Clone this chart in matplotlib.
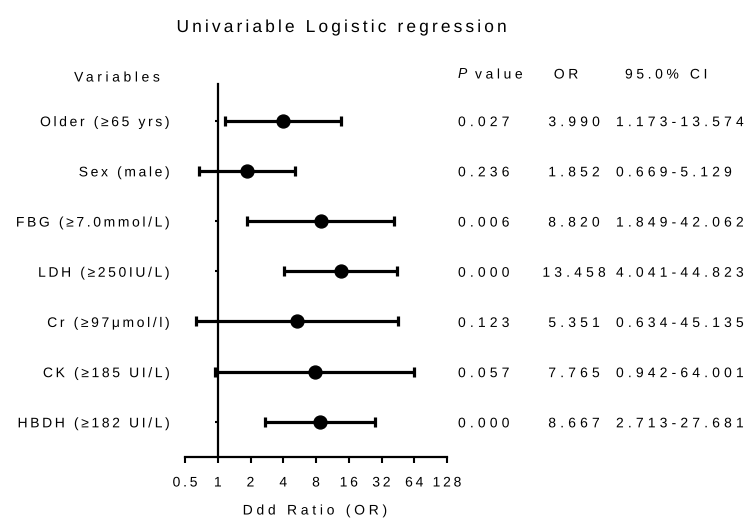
import numpy as np
import matplotlib
matplotlib.use("Agg")
import matplotlib.pyplot as plt
from matplotlib.patheffects import AbstractPathEffect
from matplotlib.textpath import text_to_path
from matplotlib.path import Path
from matplotlib.transforms import blended_transform_factory

plt.rcParams['font.family'] = ['Liberation Sans', 'DejaVu Sans']

# ---------------- data ----------------
variables = ["Older (≥65 yrs)", "Sex (male)", "FBG (≥7.0mmol/L)", "LDH (≥250IU/L)",
             "Cr (≥97μmol/l)", "CK (≥185 UI/L)", "HBDH (≥182 UI/L)"]
or_values = [3.990, 1.852, 8.820, 13.458, 5.351, 7.765, 8.667]
ci_low = [1.173, 0.669, 1.849, 4.041, 0.634, 0.942, 2.713]
ci_high = [13.574, 5.129, 42.062, 44.823, 45.135, 64.001, 27.681]
p_values = ["0.027", "0.236", "0.006", "0.000", "0.123", "0.057", "0.000"]
or_text = ["3.990", "1.852", "8.820", "13.458", "5.351", "7.765", "8.667"]
ci_text = ["1.173-13.574", "0.669-5.129", "1.849-42.062", "4.041-44.823",
           "0.634-45.135", "0.942-64.001", "2.713-27.681"]
x_ticks = [0.5, 1, 2, 4, 8, 16, 32, 64, 128]
x_tick_labels = ["0.5", "1", "2", "4", "8", "16", "32", "64", "128"]

W, H = 749, 521


class Tracking(AbstractPathEffect):
    """Adds letter spacing (in em) to a text, like the reference's spaced type."""
    def __init__(self, text_obj, em):
        super().__init__()
        self.t = text_obj
        self.em = em

    def draw_path(self, renderer, gc, tpath, affine, rgbFace=None):
        s = self.t.get_text()
        prop = self.t.get_fontproperties()
        font = text_to_path._get_font(prop)
        font.set_size(text_to_path.FONT_SCALE, text_to_path.DPI)
        info, _, _ = text_to_path.get_glyphs_with_font(font, s)
        xpos = np.array([g[1] for g in info], dtype=float)
        n = len(xpos)
        track = self.em * text_to_path.FONT_SCALE
        verts = np.array(tpath.vertices, dtype=float).copy()
        codes = tpath.codes
        if codes is not None and n > 1:
            starts = np.where(codes == Path.MOVETO)[0]
            ends = list(starts[1:]) + [len(codes)]
            for a, b in zip(starts, ends):
                m = codes[a:b] != Path.CLOSEPOLY
                seg = verts[a:b][m]
                if len(seg) == 0:
                    continue
                cx = (seg[:, 0].min() + seg[:, 0].max()) / 2
                i = max(np.searchsorted(xpos, cx, side='right') - 1, 0)
                verts[a:b, 0] += i * track
            ha = self.t.get_horizontalalignment()
            shift = {'left': 0.0, 'center': -(n - 1) * track / 2,
                     'right': -(n - 1) * track}.get(ha, 0.0)
            verts[:, 0] += shift
        renderer.draw_path(gc, Path(verts, codes), affine, rgbFace)


fig = plt.figure(figsize=(W / 100, H / 100), dpi=100)
fig.patch.set_facecolor('white')


def ttext(x, y, s, em=0.25, transform=None, **kw):
    if transform is None:
        t = fig.text(x, y, s, **kw)
    else:
        t = fig.text(x, y, s, transform=transform, **kw)
    t.set_path_effects([Tracking(t, em)])
    return t


ax_left, ax_right, ax_top, ax_bottom = 185, 447, 84, 457
ax = fig.add_axes([ax_left / W, 1 - ax_bottom / H,
                   (ax_right - ax_left) / W, (ax_bottom - ax_top) / H])

ypos = np.arange(len(variables))
ors = np.array(or_values)
xerr = [ors - np.array(ci_low), np.array(ci_high) - ors]
ax.errorbar(ors, ypos, xerr=xerr, fmt='o', color='black', ms=9.3,
            elinewidth=2.3, capsize=3.8, capthick=2.3, clip_on=False, zorder=3)

ax.set_xscale('log', base=2)
ax.set_xlim(0.5, 128)
ax.set_ylim(6.70, -0.73)
ax.set_xticks(x_ticks)
ax.xaxis.set_minor_locator(matplotlib.ticker.NullLocator())
ax.set_xticklabels([])
ax.set_yticks(ypos)
ax.set_yticklabels([])
ax.tick_params(axis='x', direction='out', length=4, width=1.5, color='black')
ax.tick_params(axis='y', direction='out', length=2.5, width=1.5, color='black')
for side in ('top', 'right'):
    ax.spines[side].set_visible(False)
ax.spines['left'].set_position(('data', 1))
ax.spines['left'].set_linewidth(1.6)
ax.spines['bottom'].set_linewidth(1.6)
ax.patch.set_visible(False)

# blended transforms
fx_dy = blended_transform_factory(fig.transFigure, ax.transData)
dx_fy = blended_transform_factory(ax.transData, fig.transFigure)

fs = 10
# row labels and table
for i in range(len(variables)):
    ttext(170 / W, i, variables[i], em=0.19, transform=fx_dy, ha='right',
          va='center_baseline', fontsize=fs)
    ttext(458 / W, i, p_values[i], em=0.3, transform=fx_dy, ha='left',
          va='center_baseline', fontsize=fs)
    ttext(574 / W, i, or_text[i], em=0.3, transform=fx_dy, ha='center',
          va='center_baseline', fontsize=fs)
    ttext(616 / W, i, ci_text[i], em=0.3, transform=fx_dy, ha='left',
          va='center_baseline', fontsize=fs)

# x tick labels
for xv, lab in zip(x_ticks, x_tick_labels):
    ttext(xv, 1 - 481 / H, lab, em=0.2, transform=dx_fy, ha='center',
          va='center_baseline', fontsize=fs)

# headers
ttext(117 / W, 1 - 76 / H, "Variables", em=0.26, ha='center',
      va='center_baseline', fontsize=fs)
fig.text(458 / W, 1 - 73 / H, "P", ha='left', va='center_baseline',
         fontsize=fs, style='italic')
ttext(475 / W, 1 - 73 / H, "value", em=0.26, ha='left',
      va='center_baseline', fontsize=fs)
ttext(566 / W, 1 - 73 / H, "OR", em=0.26, ha='center',
      va='center_baseline', fontsize=fs)
ttext(625 / W, 1 - 73 / H, "95.0% CI", em=0.26, ha='left',
      va='center_baseline', fontsize=fs)

# x label and title
ttext(315 / W, 1 - 509 / H, "Ddd Ratio (OR)", em=0.27, ha='center',
      va='center_baseline', fontsize=fs)
ttext(342 / W, 1 - 26 / H, "Univariable Logistic regression", em=0.18,
      ha='center', va='center_baseline', fontsize=12.5)

fig.savefig("out.png", dpi=100, facecolor='white')
